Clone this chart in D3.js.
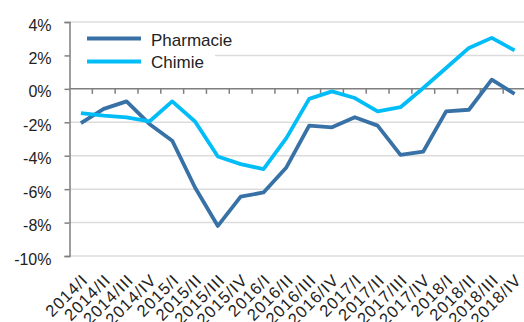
<!DOCTYPE html>
<html>
<head>
<meta charset="utf-8">
<script src="https://cdn.jsdelivr.net/npm/d3@7"></script>
<style>
  body { margin: 0; background: #fff; }
  text { font-family: "Liberation Sans", Arial, sans-serif; fill: #222; }
</style>
</head>
<body>
<div id="chart"></div>
<script>
// quarterly categories
const quarters = ["2014/I","2014/II","2014/III","2014/IV","2015/I","2015/II","2015/III","2015/IV",
  "2016/I","2016/II","2016/III","2016/IV","2017/I","2017/II","2017/III","2017/IV",
  "2018/I","2018/II","2018/III","2018/IV"];

// values in %
const pharmacie = [-2.05,-1.2,-0.75,-2.1,-3.1,-5.9,-8.2,-6.45,-6.2,-4.7,
  -2.2,-2.3,-1.7,-2.2,-3.95,-3.75,-1.35,-1.25,0.55,-0.3];
const chimie = [-1.45,-1.6,-1.7,-1.95,-0.75,-1.95,-4.05,-4.5,-4.8,-2.95,
  -0.6,-0.15,-0.55,-1.35,-1.1,0.05,1.25,2.45,3.05,2.3];

const yTicks = [4,2,0,-2,-4,-6,-8,-10];

const seriesNames = ["Pharmacie","Chimie"];
const seriesColors = ["#3871a6","#00bdf8"];

window.addEventListener("load", main);

function main(){
  let [w, h] = [524, 322];
  let svg = d3.select('#chart').append('svg')
    .attr('width', w).attr('height', h);

  let xsc = d3.scaleBand().domain(quarters).range([69.5, 526]).padding(0);
  let ysc = d3.scaleLinear().domain([-10, 4]).range([256, 22]);

  // gridlines
  svg.append('g').selectAll('line')
    .data(yTicks.filter(d => d !== 0))
    .join('line')
      .attr('x1', 69.5).attr('x2', w)
      .attr('y1', d => ysc(d)).attr('y2', d => ysc(d))
      .attr('stroke', '#dcdcdc').attr('stroke-width', 1.5);

  // y axis
  let yAx = svg.append('g').attr('transform', 'translate(69.5,0)')
    .call(d3.axisLeft(ysc).tickValues(yTicks).tickSize(5).tickPadding(13)
      .tickFormat(d => d + '%'));
  yAx.select('.domain').attr('stroke', '#7f7f7f').attr('stroke-width', 1.5);
  yAx.selectAll('.tick line').attr('stroke', '#7f7f7f').attr('stroke-width', 1.5);
  yAx.selectAll('.tick text')
    .attr('font-size', 16).attr('font-family', '"Liberation Sans", Arial, sans-serif')
    .attr('fill', '#222').attr('dy', '0.5em');

  // x axis on the zero line, ticks between categories
  let xAxG = svg.append('g').attr('transform', `translate(0,${ysc(0)})`);
  xAxG.append('line')
    .attr('x1', 69.5).attr('x2', w)
    .attr('stroke', '#7f7f7f').attr('stroke-width', 1.5);
  xAxG.selectAll('line.tk')
    .data(quarters.slice(1))
    .join('line').attr('class', 'tk')
      .attr('x1', d => xsc(d)).attr('x2', d => xsc(d))
      .attr('y1', 0).attr('y2', 5)
      .attr('stroke', '#7f7f7f').attr('stroke-width', 1.5);

  // category labels, rotated
  svg.append('g').selectAll('text')
    .data(quarters)
    .join('text')
      .attr('transform', d => `translate(${xsc(d) + xsc.bandwidth()/2 + 8},281) rotate(-45)`)
      .attr('text-anchor', 'end')
      .attr('font-size', 16.5)
      .attr('letter-spacing', 1)
      .text(d => d);

  // series lines
  let line = d3.line()
    .x((d, i) => xsc(quarters[i]) + xsc.bandwidth()/2)
    .y(d => ysc(d));

  [pharmacie, chimie].forEach((vals, k) => {
    svg.append('path')
      .datum(vals)
      .attr('d', line)
      .attr('fill', 'none')
      .attr('stroke', seriesColors[k])
      .attr('stroke-width', 3.8)
      .attr('stroke-linejoin', 'round');
  });

  // legend
  let lg = svg.append('g');
  lg.append('rect')
    .attr('x', 71).attr('y', 27).attr('width', 144).attr('height', 46)
    .attr('fill', '#fff');
  seriesNames.forEach((name, k) => {
    let yy = 38.5 + k * 23;
    lg.append('line')
      .attr('x1', 87).attr('x2', 141)
      .attr('y1', yy).attr('y2', yy)
      .attr('stroke', seriesColors[k]).attr('stroke-width', 4);
    lg.append('text')
      .attr('x', 151).attr('y', yy + 7.5 - k * 1.5)
      .attr('font-size', 17)
      .text(name);
  });
}
</script>
</body>
</html>
